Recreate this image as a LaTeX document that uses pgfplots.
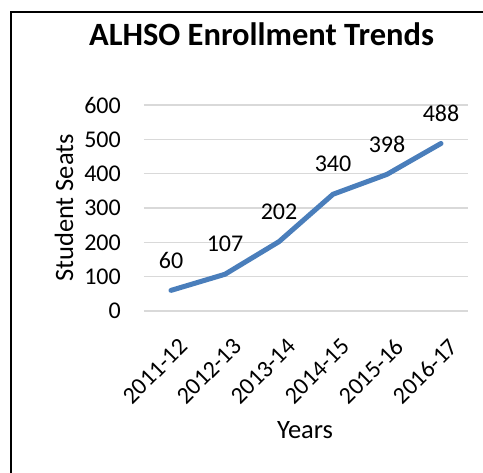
\documentclass[border=0pt]{standalone}
\usepackage{fontspec}
\setmainfont{Carlito}
\usepackage{pgfplots}
\pgfplotsset{compat=1.18}
\definecolor{linebl}{RGB}{74,126,187}
\definecolor{gridg}{RGB}{217,217,217}
\begin{document}
\begin{tikzpicture}
\useasboundingbox (0pt,0pt) rectangle (483pt,473pt);
\draw[line width=2pt] (11pt,-20pt) -- (11pt,461pt) -- (500pt,461pt);
\node[font=\fontsize{32.5}{38}\selectfont\bfseries, anchor=base] at (261.5pt,427pt) {ALHSO Enrollment Trends};
\begin{axis}[
  at={(144pt,162pt)}, anchor=south west,
  scale only axis, width=324pt, height=206pt,
  xmin=-0.5, xmax=5.5, ymin=0, ymax=600,
  ytick={0,100,...,600},
  xtick={0,...,5},
  xticklabels={2011-12,2012-13,2013-14,2014-15,2015-16,2016-17},
  axis line style={draw=none},
  tick style={draw=none},
  ymajorgrids, grid style={gridg, line width=1.5pt},
  yticklabel style={font=\fontsize{24}{28}\selectfont, inner sep=0pt, anchor=east, xshift=-23pt},
  xticklabel style={font=\fontsize{24}{28}\selectfont, xshift=7pt, yshift=-26pt, rotate=45, anchor=north east, inner sep=0pt},
  /pgf/number format/assume math mode=true,
  xlabel={Years}, ylabel={Student Seats},
  xlabel style={font=\fontsize{26.5}{31}\selectfont, at={(axis description cs:0.497,-0.578)}, anchor=center},
  ylabel style={font=\fontsize{26.5}{31}\selectfont, at={(axis description cs:-0.247,0.5)}, anchor=center},
  clip=false,
]
\addplot[linebl, line width=5pt, line join=round, line cap=round,
  nodes near coords, point meta=explicit symbolic,
  every node near coord/.append style={font=\fontsize{24}{28}\selectfont, text=black, anchor=center, yshift=30pt}]
  table[meta=y] {
x y
0 60
1 107
2 202
3 340
4 398
5 488
};
\end{axis}
\end{tikzpicture}
\end{document}
